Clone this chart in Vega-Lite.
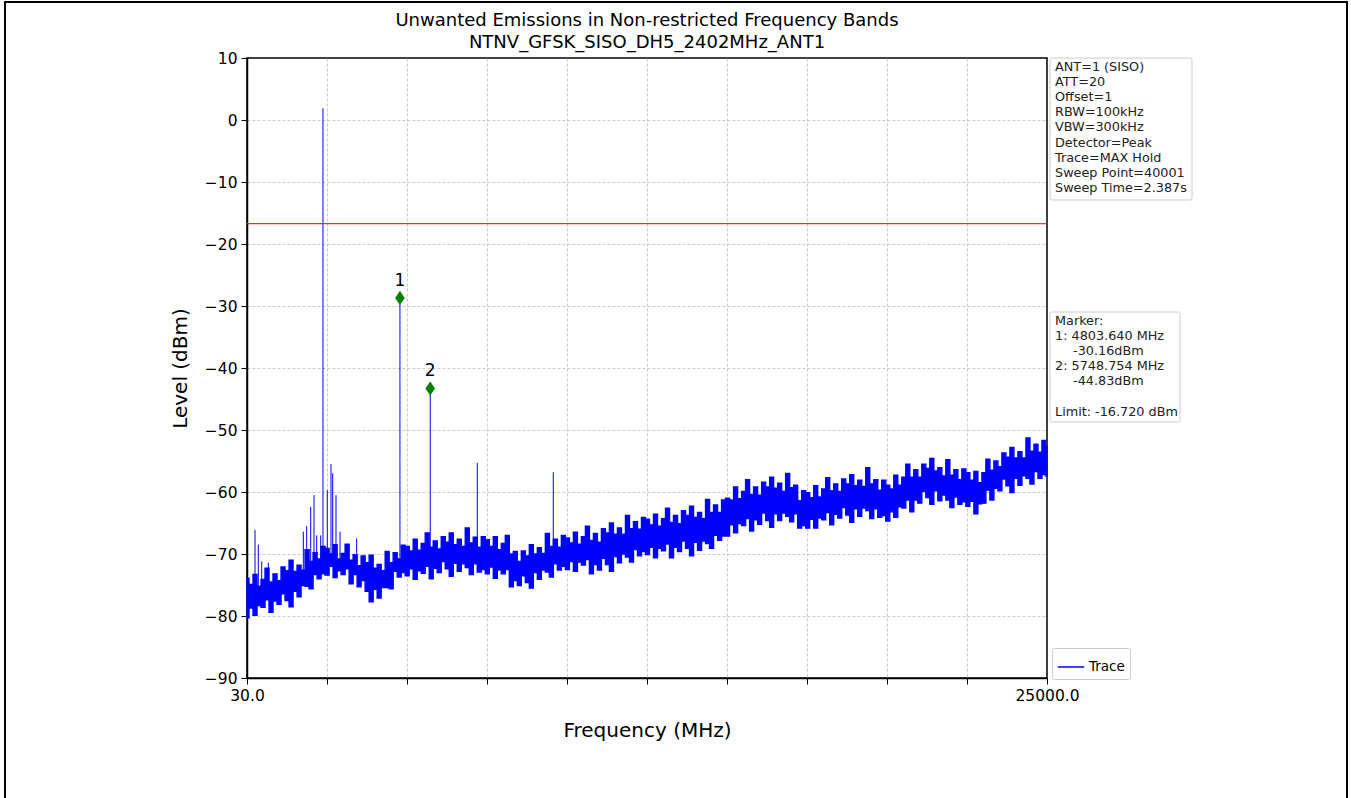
{
  "$schema": "https://vega.github.io/schema/vega-lite/v6.json",
  "autosize": "none",
  "width": 800,
  "height": 620,
  "padding": {"left": 247, "top": 58, "right": 304, "bottom": 120},
  "background": "white",
  "title": {
    "text": ["Unwanted Emissions in Non-restricted Frequency Bands", "NTNV_GFSK_SISO_DH5_2402MHz_ANT1"],
    "fontSize": 18, "fontWeight": "normal", "lineHeight": 22, "offset": -51, "frame": "group",
    "anchor": "middle", "color": "black", "font": "DejaVu Sans"
  },
  "config": {
    "font": "DejaVu Sans",
    "view": {"stroke": "black", "strokeWidth": 1.5},
    "axis": {
      "labelFont": "DejaVu Sans", "labelFontSize": 15.5, "labelColor": "black",
      "tickColor": "black", "tickSize": 6, "tickWidth": 1, "labelPadding": 4,
      "titleFont": "DejaVu Sans", "titleFontSize": 20, "titleFontWeight": "normal", "titleColor": "black",
      "gridColor": "#bdbdbd", "gridDash": [3, 2], "gridWidth": 0.8,
      "domain": true, "domainColor": "black", "domainWidth": 1.5
    }
  },
  "datasets": {
    "trace": [
      {"freq":30,"low":-80.3,"high":-73.9},{"freq":155,"low":-78.7,"high":-74.9},{"freq":280,"low":-79.9,"high":-73.3},{"freq":405,"low":-78.3,"high":-75.2},
      {"freq":530,"low":-78.6,"high":-74.1},{"freq":655,"low":-77.4,"high":-72.3},{"freq":780,"low":-79.4,"high":-74.5},{"freq":905,"low":-77.6,"high":-73.2},
      {"freq":1030,"low":-78.1,"high":-74.3},{"freq":1155,"low":-76.4,"high":-72.1},{"freq":1280,"low":-77.5,"high":-72.7},{"freq":1405,"low":-78.5,"high":-71.0},
      {"freq":1530,"low":-76.0,"high":-72.8},{"freq":1655,"low":-76.9,"high":-71.8},{"freq":1780,"low":-75.1,"high":-72.6},{"freq":1905,"low":-75.2,"high":-69.3},
      {"freq":2030,"low":-75.6,"high":-71.2},{"freq":2155,"low":-73.3,"high":-69.8},{"freq":2280,"low":-74.0,"high":-70.8},{"freq":2405,"low":-73.2,"high":-68.8},
      {"freq":2530,"low":-73.4,"high":-69.1},{"freq":2655,"low":-72.0,"high":-70.0},{"freq":2780,"low":-73.8,"high":-68.5},{"freq":2905,"low":-72.7,"high":-70.8},
      {"freq":3030,"low":-73.3,"high":-69.9},{"freq":3155,"low":-72.4,"high":-68.4},{"freq":3280,"low":-74.8,"high":-71.0},{"freq":3405,"low":-73.3,"high":-70.1},
      {"freq":3530,"low":-75.3,"high":-71.9},{"freq":3655,"low":-74.3,"high":-70.3},{"freq":3780,"low":-76.0,"high":-71.4},{"freq":3905,"low":-77.7,"high":-70.2},
      {"freq":4030,"low":-75.7,"high":-72.3},{"freq":4155,"low":-77.1,"high":-71.7},{"freq":4280,"low":-75.4,"high":-72.7},{"freq":4405,"low":-75.4,"high":-69.6},
      {"freq":4530,"low":-75.6,"high":-71.4},{"freq":4655,"low":-72.8,"high":-69.8},{"freq":4780,"low":-73.7,"high":-70.8},{"freq":4905,"low":-73.0,"high":-68.6},
      {"freq":5030,"low":-73.5,"high":-68.8},{"freq":5155,"low":-72.4,"high":-69.5},{"freq":5280,"low":-74.1,"high":-67.6},{"freq":5405,"low":-72.7,"high":-69.4},
      {"freq":5530,"low":-73.1,"high":-68.3},{"freq":5655,"low":-72.0,"high":-66.6},{"freq":5780,"low":-74.0,"high":-68.9},{"freq":5905,"low":-72.3,"high":-67.9},
      {"freq":6030,"low":-73.0,"high":-69.2},{"freq":6155,"low":-71.2,"high":-67.2},{"freq":6280,"low":-72.4,"high":-68.1},{"freq":6405,"low":-73.6,"high":-66.6},
      {"freq":6530,"low":-71.5,"high":-68.5},{"freq":6655,"low":-72.8,"high":-67.6},{"freq":6780,"low":-71.6,"high":-68.8},{"freq":6905,"low":-72.2,"high":-65.8},
      {"freq":7030,"low":-73.3,"high":-68.2},{"freq":7155,"low":-71.6,"high":-67.3},{"freq":7280,"low":-72.9,"high":-68.9},{"freq":7405,"low":-72.5,"high":-67.2},
      {"freq":7530,"low":-73.2,"high":-67.7},{"freq":7655,"low":-72.1,"high":-68.8},{"freq":7780,"low":-73.9,"high":-67.2},{"freq":7905,"low":-72.6,"high":-69.3},
      {"freq":8030,"low":-73.2,"high":-68.3},{"freq":8155,"low":-72.5,"high":-67.0},{"freq":8280,"low":-75.3,"high":-70.0},{"freq":8405,"low":-74.3,"high":-69.6},
      {"freq":8530,"low":-75.1,"high":-71.2},{"freq":8655,"low":-73.5,"high":-69.5},{"freq":8780,"low":-74.6,"high":-70.3},{"freq":8905,"low":-75.5,"high":-68.5},
      {"freq":9030,"low":-73.0,"high":-70.0},{"freq":9155,"low":-74.1,"high":-69.0},{"freq":9280,"low":-72.6,"high":-69.9},{"freq":9405,"low":-72.9,"high":-66.7},
      {"freq":9530,"low":-73.7,"high":-68.8},{"freq":9655,"low":-71.6,"high":-67.6},{"freq":9780,"low":-72.6,"high":-68.9},{"freq":9905,"low":-72.0,"high":-67.0},
      {"freq":10030,"low":-72.5,"high":-67.4},{"freq":10155,"low":-71.2,"high":-68.2},{"freq":10280,"low":-72.8,"high":-66.5},{"freq":10405,"low":-71.3,"high":-68.4},
      {"freq":10530,"low":-71.8,"high":-67.2},{"freq":10655,"low":-70.9,"high":-65.5},{"freq":10780,"low":-73.2,"high":-67.8},{"freq":10905,"low":-71.7,"high":-66.7},
      {"freq":11030,"low":-72.6,"high":-68.1},{"freq":11155,"low":-70.7,"high":-65.9},{"freq":11280,"low":-71.7,"high":-66.6},{"freq":11405,"low":-72.8,"high":-65.0},
      {"freq":11530,"low":-70.4,"high":-66.8},{"freq":11655,"low":-71.4,"high":-65.8},{"freq":11780,"low":-70.0,"high":-66.8},{"freq":11905,"low":-70.5,"high":-63.8},
      {"freq":12030,"low":-71.3,"high":-65.9},{"freq":12155,"low":-69.3,"high":-64.8},{"freq":12280,"low":-70.3,"high":-66.0},{"freq":12405,"low":-69.6,"high":-64.1},
      {"freq":12530,"low":-70.1,"high":-64.4},{"freq":12655,"low":-68.9,"high":-65.3},{"freq":12780,"low":-70.6,"high":-63.6},{"freq":12905,"low":-69.1,"high":-65.5},
      {"freq":13030,"low":-69.5,"high":-64.3},{"freq":13155,"low":-68.4,"high":-62.6},{"freq":13280,"low":-70.6,"high":-64.9},{"freq":13405,"low":-68.9,"high":-63.8},
      {"freq":13530,"low":-69.6,"high":-65.1},{"freq":13655,"low":-67.9,"high":-63.0},{"freq":13780,"low":-69.1,"high":-63.8},{"freq":13905,"low":-70.3,"high":-62.3},
      {"freq":14030,"low":-68.1,"high":-64.1},{"freq":14155,"low":-69.4,"high":-63.3},{"freq":14280,"low":-67.9,"high":-64.3},{"freq":14405,"low":-68.3,"high":-61.2},
      {"freq":14530,"low":-69.1,"high":-63.3},{"freq":14655,"low":-67.0,"high":-62.1},{"freq":14780,"low":-67.8,"high":-63.3},{"freq":14905,"low":-67.1,"high":-61.3},
      {"freq":15030,"low":-67.1,"high":-61.0},{"freq":15155,"low":-65.3,"high":-61.3},{"freq":15280,"low":-66.6,"high":-59.2},{"freq":15405,"low":-65.1,"high":-61.1},
      {"freq":15530,"low":-65.4,"high":-59.9},{"freq":15655,"low":-64.3,"high":-58.0},{"freq":15780,"low":-66.3,"high":-60.4},{"freq":15905,"low":-64.5,"high":-59.2},
      {"freq":16030,"low":-65.2,"high":-60.5},{"freq":16155,"low":-63.4,"high":-58.4},{"freq":16280,"low":-64.6,"high":-59.2},{"freq":16405,"low":-65.7,"high":-57.6},
      {"freq":16530,"low":-63.5,"high":-59.4},{"freq":16655,"low":-64.6,"high":-58.6},{"freq":16780,"low":-63.4,"high":-59.9},{"freq":16905,"low":-63.9,"high":-57.0},
      {"freq":17030,"low":-64.8,"high":-59.3},{"freq":17155,"low":-63.5,"high":-58.9},{"freq":17280,"low":-65.8,"high":-61.4},{"freq":17405,"low":-65.4,"high":-59.8},
      {"freq":17530,"low":-65.8,"high":-60.1},{"freq":17655,"low":-64.4,"high":-60.9},{"freq":17780,"low":-65.8,"high":-59.0},{"freq":17905,"low":-64.2,"high":-60.8},
      {"freq":18030,"low":-64.5,"high":-59.5},{"freq":18155,"low":-63.3,"high":-57.7},{"freq":18280,"low":-65.3,"high":-59.8},{"freq":18405,"low":-63.6,"high":-58.7},
      {"freq":18530,"low":-64.2,"high":-59.9},{"freq":18655,"low":-62.5,"high":-57.9},{"freq":18780,"low":-63.7,"high":-58.7},{"freq":18905,"low":-64.9,"high":-57.2},
      {"freq":19030,"low":-62.7,"high":-59.0},{"freq":19155,"low":-63.9,"high":-58.1},{"freq":19280,"low":-62.6,"high":-59.1},{"freq":19405,"low":-63.0,"high":-56.1},
      {"freq":19530,"low":-64.3,"high":-58.7},{"freq":19655,"low":-62.7,"high":-58.0},{"freq":19780,"low":-64.1,"high":-59.7},{"freq":19905,"low":-63.8,"high":-58.1},
      {"freq":20030,"low":-64.7,"high":-58.9},{"freq":20155,"low":-63.2,"high":-59.5},{"freq":20280,"low":-64.1,"high":-57.3},{"freq":20405,"low":-62.4,"high":-58.9},
      {"freq":20530,"low":-62.6,"high":-57.6},{"freq":20655,"low":-61.3,"high":-55.5},{"freq":20780,"low":-63.2,"high":-57.6},{"freq":20905,"low":-61.3,"high":-56.4},
      {"freq":21030,"low":-61.8,"high":-57.6},{"freq":21155,"low":-59.9,"high":-55.5},{"freq":21280,"low":-60.9,"high":-56.2},{"freq":21405,"low":-62.0,"high":-54.6},
      {"freq":21530,"low":-59.8,"high":-56.6},{"freq":21655,"low":-61.4,"high":-56.1},{"freq":21780,"low":-60.5,"high":-57.4},{"freq":21905,"low":-61.3,"high":-54.8},
      {"freq":22030,"low":-62.5,"high":-57.3},{"freq":22155,"low":-60.8,"high":-56.4},{"freq":22280,"low":-62.0,"high":-58.0},{"freq":22405,"low":-61.6,"high":-56.3},
      {"freq":22530,"low":-62.3,"high":-56.9},{"freq":22655,"low":-61.5,"high":-58.1},{"freq":22780,"low":-63.5,"high":-56.7},{"freq":22905,"low":-61.9,"high":-58.5},
      {"freq":23030,"low":-61.8,"high":-56.9},{"freq":23155,"low":-59.7,"high":-54.7},{"freq":23280,"low":-61.3,"high":-56.5},{"freq":23405,"low":-59.4,"high":-55.0},
      {"freq":23530,"low":-59.8,"high":-55.9},{"freq":23655,"low":-57.9,"high":-53.7},{"freq":23780,"low":-59.0,"high":-54.4},{"freq":23905,"low":-60.1,"high":-52.8},
      {"freq":24030,"low":-57.8,"high":-54.5},{"freq":24155,"low":-58.9,"high":-53.5},{"freq":24280,"low":-57.4,"high":-54.5},{"freq":24405,"low":-57.8,"high":-51.3},
      {"freq":24530,"low":-58.7,"high":-53.4},{"freq":24655,"low":-56.7,"high":-52.3},{"freq":24780,"low":-57.8,"high":-53.6},{"freq":24905,"low":-57.2,"high":-51.7},
      {"freq":25000,"low":-57.4,"high":-52.6}
    ],
    "spikes": [
      {"freq":280,"peak":-66.1,"base":-76},{"freq":383,"peak":-68.5,"base":-76},{"freq":489,"peak":-71.2,"base":-76},{"freq":695,"peak":-71.4,"base":-76},
      {"freq":1788,"peak":-66.4,"base":-73},{"freq":1893,"peak":-65.5,"base":-73},{"freq":2018,"peak":-62.4,"base":-72},{"freq":2121,"peak":-60.5,"base":-72},
      {"freq":2205,"peak":-67,"base":-72},{"freq":2330,"peak":-67,"base":-72},{"freq":2402,"peak":1.9,"base":-71},{"freq":2536,"peak":-59.7,"base":-71},
      {"freq":2652,"peak":-55.5,"base":-71},{"freq":2705,"peak":-57,"base":-71},{"freq":2808,"peak":-60.5,"base":-71},{"freq":2933,"peak":-66.4,"base":-71},
      {"freq":3453,"peak":-67.5,"base":-71},{"freq":4803.64,"peak":-28.7,"base":-71},{"freq":5748.754,"peak":-43.3,"base":-70},
      {"freq":7218,"peak":-55.3,"base":-70},{"freq":9590,"peak":-56.8,"base":-70}
    ],
    "markers": [
      {"freq":4803.64,"level":-28.7,"label":"1"},
      {"freq":5748.754,"level":-43.3,"label":"2"}
    ]
  },
  "layer": [
    {
      "data": {"values": [{}]},
      "mark": {"type": "rect", "fill": null, "stroke": "black", "strokeWidth": 2, "clip": false},
      "encoding": {
        "x": {"datum": -7523, "type": "quantitative"},
        "x2": {"datum": 34364},
        "y": {"datum": 19.03, "type": "quantitative"},
        "y2": {"datum": -110.5}
      }
    },
    {
      "data": {"values": [{}]},
      "mark": {"type": "rect", "fill": "white", "stroke": "#cccccc", "strokeWidth": 1, "cornerRadius": 2},
      "encoding": {
        "x": {"datum": 25095, "type": "quantitative"},
        "x2": {"datum": 29526},
        "y": {"datum": 10, "type": "quantitative"},
        "y2": {"datum": -12.9}
      }
    },
    {
      "data": {"values": [{}]},
      "mark": {"type": "text", "align": "left", "baseline": "top", "fontSize": 12.8, "lineHeight": 15.1, "color": "#222222", "font": "DejaVu Sans"},
      "encoding": {
        "x": {"datum": 25250, "type": "quantitative"},
        "y": {"datum": 9.5, "type": "quantitative"},
        "text": {"value": ["ANT=1 (SISO)", "ATT=20", "Offset=1", "RBW=100kHz", "VBW=300kHz", "Detector=Peak", "Trace=MAX Hold", "Sweep Point=40001", "Sweep Time=2.387s"]}
      }
    },
    {
      "data": {"values": [{}]},
      "mark": {"type": "rect", "fill": "white", "stroke": "#cccccc", "strokeWidth": 1, "cornerRadius": 2},
      "encoding": {
        "x": {"datum": 25095, "type": "quantitative"},
        "x2": {"datum": 29151},
        "y": {"datum": -30.97, "type": "quantitative"},
        "y2": {"datum": -48.71}
      }
    },
    {
      "data": {"values": [{}]},
      "mark": {"type": "text", "align": "left", "baseline": "top", "fontSize": 12.8, "lineHeight": 15.1, "color": "#222222", "font": "DejaVu Sans"},
      "encoding": {
        "x": {"datum": 25250, "type": "quantitative"},
        "y": {"datum": -31.45, "type": "quantitative"},
        "text": {"value": ["Marker:", "1: 4803.640 MHz"]}
      }
    },
    {
      "data": {"values": [{}]},
      "mark": {"type": "text", "align": "left", "baseline": "top", "fontSize": 12.8, "color": "#222222", "font": "DejaVu Sans"},
      "encoding": {
        "x": {"datum": 25812, "type": "quantitative"},
        "y": {"datum": -36.32, "type": "quantitative"},
        "text": {"value": "-30.16dBm"}
      }
    },
    {
      "data": {"values": [{}]},
      "mark": {"type": "text", "align": "left", "baseline": "top", "fontSize": 12.8, "color": "#222222", "font": "DejaVu Sans"},
      "encoding": {
        "x": {"datum": 25250, "type": "quantitative"},
        "y": {"datum": -38.76, "type": "quantitative"},
        "text": {"value": "2: 5748.754 MHz"}
      }
    },
    {
      "data": {"values": [{}]},
      "mark": {"type": "text", "align": "left", "baseline": "top", "fontSize": 12.8, "color": "#222222", "font": "DejaVu Sans"},
      "encoding": {
        "x": {"datum": 25812, "type": "quantitative"},
        "y": {"datum": -41.19, "type": "quantitative"},
        "text": {"value": "-44.83dBm"}
      }
    },
    {
      "data": {"values": [{}]},
      "mark": {"type": "text", "align": "left", "baseline": "top", "fontSize": 12.8, "color": "#222222", "font": "DejaVu Sans"},
      "encoding": {
        "x": {"datum": 25250, "type": "quantitative"},
        "y": {"datum": -46.06, "type": "quantitative"},
        "text": {"value": "Limit: -16.720 dBm"}
      }
    },
    {
      "data": {"name": "trace"},
      "mark": {"type": "area", "color": "#0000ff", "stroke": "#0000ff", "strokeWidth": 1.4, "interpolate": "step"},
      "encoding": {
        "x": {
          "field": "freq", "type": "quantitative",
          "scale": {"domain": [30, 25000], "nice": false, "zero": false},
          "axis": {
            "title": "Frequency (MHz)", "titlePadding": 17, "labelFlush": false,
            "values": [30, 2527, 5024, 7521, 10018, 12515, 15012, 17509, 20006, 22503, 25000],
            "labelExpr": "datum.value == 30 ? '30.0' : (datum.value == 25000 ? '25000.0' : '')",
            "grid": true,
            "gridOpacity": {"condition": {"test": "datum.value == 30 || datum.value == 25000", "value": 0}, "value": 1}
          }
        },
        "y": {
          "field": "low", "type": "quantitative",
          "scale": {"domain": [-90, 10], "nice": false, "zero": false},
          "axis": {
            "title": "Level (dBm)", "titlePadding": 14, "labelFlush": false,
            "values": [-90, -80, -70, -60, -50, -40, -30, -20, -10, 0, 10],
            "labelExpr": "replace(datum.label, '-', '\u2212')",
            "grid": true,
            "gridOpacity": {"condition": {"test": "datum.value == 10 || datum.value == -90", "value": 0}, "value": 1}
          }
        },
        "y2": {"field": "high"}
      }
    },
    {
      "data": {"name": "spikes"},
      "mark": {"type": "rule", "strokeWidth": 1},
      "encoding": {
        "x": {"field": "freq", "type": "quantitative"},
        "y": {"field": "peak", "type": "quantitative"},
        "y2": {"field": "base"},
        "color": {
          "datum": "Trace",
          "scale": {"range": ["#0000ff"]},
          "legend": {
            "title": null, "orient": "none", "legendX": 805, "legendY": 590,
            "symbolType": "stroke", "symbolSize": 700, "symbolStrokeWidth": 1.5,
            "labelFontSize": 13.5, "labelFont": "DejaVu Sans", "labelColor": "black",
            "padding": 5, "strokeColor": "#cccccc", "fillColor": "white", "cornerRadius": 2
          }
        }
      }
    },
    {
      "data": {"values": [{}]},
      "mark": {"type": "rule", "color": "#ff2a2a", "strokeWidth": 1.3},
      "encoding": {
        "y": {"datum": -16.72, "type": "quantitative"}
      }
    },
    {
      "data": {"name": "markers"},
      "mark": {"type": "point", "shape": "M0,-1L0.68,0L0,1L-0.68,0Z", "filled": true, "color": "#008000", "size": 200, "opacity": 1},
      "encoding": {
        "x": {"field": "freq", "type": "quantitative"},
        "y": {"field": "level", "type": "quantitative"}
      }
    },
    {
      "data": {"name": "markers"},
      "mark": {"type": "text", "dy": -17, "fontSize": 17, "color": "black", "font": "DejaVu Sans", "baseline": "middle"},
      "encoding": {
        "x": {"field": "freq", "type": "quantitative"},
        "y": {"field": "level", "type": "quantitative"},
        "text": {"field": "label"}
      }
    }
  ]
}
